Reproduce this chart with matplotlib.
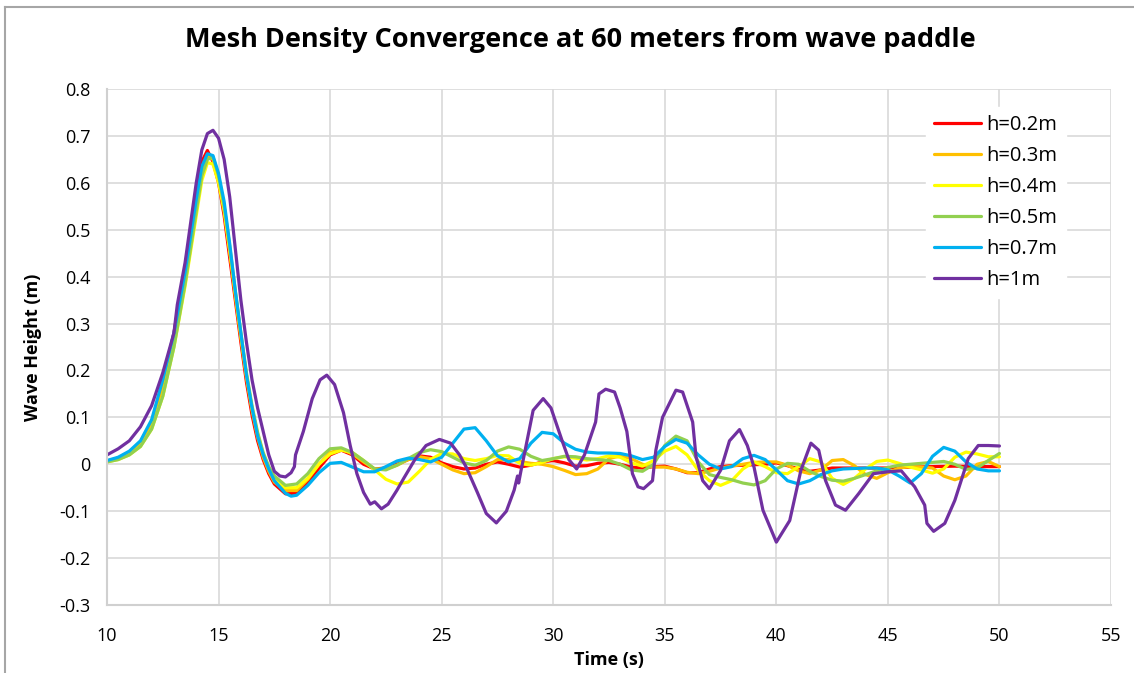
import matplotlib.pyplot as plt
from matplotlib.lines import Line2D

# Wave height records (time in s, height in m) for each mesh size
t_02 = [10, 10.5, 11, 11.5, 12, 12.5, 13, 13.5, 14, 14.25, 14.5, 14.75, 15, 15.25, 15.5, 15.75,
        16, 16.25, 16.5, 16.75, 17, 17.25, 17.5, 18, 18.5, 19, 19.5, 20, 20.5, 21, 21.5, 22,
        22.5, 23, 23.5, 24, 24.5, 25, 25.5, 26, 26.5, 27, 27.5, 28, 28.5, 29, 29.5, 30, 30.5,
        31, 31.5, 32, 32.5, 33, 33.5, 34, 34.5, 35, 35.5, 36, 36.5, 37, 37.5, 38, 38.5, 39,
        39.5, 40, 40.5, 41, 41.5, 42, 42.5, 43, 44, 45, 46, 47, 48, 49, 50]
h_02 = [0.007, 0.013, 0.025, 0.047, 0.09, 0.17, 0.28, 0.42, 0.58, 0.645, 0.669, 0.645, 0.6,
        0.53, 0.44, 0.35, 0.26, 0.175, 0.105, 0.05, 0.01, -0.02, -0.042, -0.063, -0.062,
        -0.038, -0.008, 0.02, 0.03, 0.02, 0.0, -0.01, -0.008, 0.0, 0.01, 0.018, 0.015, 0.003,
        -0.005, -0.01, -0.008, 0.0, 0.005, 0.0, -0.006, -0.002, 0.005, 0.008, 0.003, -0.004,
        -0.003, 0.002, 0.004, 0.0, -0.006, -0.008, -0.005, -0.004, -0.01, -0.018, -0.018,
        -0.01, -0.005, -0.003, -0.002, -0.001, 0.0, 0.003, -0.003, -0.01, -0.015, -0.012,
        -0.008, -0.008, -0.008, -0.008, -0.006, -0.005, -0.004, -0.005, -0.005]

t_03 = [10, 10.5, 11, 11.5, 12, 12.5, 13, 13.5, 14, 14.25, 14.5, 14.75, 15, 15.25, 15.5, 15.75,
        16, 16.25, 16.5, 16.75, 17, 17.25, 17.5, 18, 18.5, 19, 19.5, 20, 20.5, 21, 21.5, 22,
        22.5, 23, 23.5, 24, 24.5, 25, 25.5, 26, 26.5, 27, 27.5, 28, 28.5, 29, 29.5, 30, 30.5,
        31, 31.5, 32, 32.5, 33, 33.5, 34, 34.5, 35, 35.5, 36, 36.5, 37, 37.5, 38, 38.5, 39,
        39.5, 40, 40.5, 41, 41.5, 42, 42.5, 43, 43.5, 44, 44.5, 45, 45.5, 46, 46.5, 47, 47.5,
        48, 48.5, 49, 49.5, 50]
h_03 = [0.006, 0.012, 0.023, 0.043, 0.085, 0.16, 0.27, 0.405, 0.56, 0.63, 0.657, 0.65, 0.61,
        0.545, 0.455, 0.36, 0.27, 0.185, 0.115, 0.058, 0.015, -0.015, -0.038, -0.056, -0.056,
        -0.032, 0.0, 0.025, 0.032, 0.022, 0.005, -0.01, -0.01, -0.002, 0.01, 0.016, 0.012,
        0.0, -0.012, -0.02, -0.018, -0.005, 0.01, 0.01, 0.006, 0.002, 0.0, -0.005, -0.013,
        -0.022, -0.02, -0.01, 0.012, 0.018, 0.012, 0.0, -0.006, -0.006, -0.01, -0.017, -0.02,
        -0.015, -0.008, -0.004, 0.0, 0.004, 0.005, 0.005, -0.002, -0.014, -0.02, -0.012,
        0.008, 0.01, -0.003, -0.022, -0.03, -0.018, -0.008, -0.005, -0.006, -0.008, -0.025,
        -0.033, -0.025, 0.0, 0.006, -0.005]

t_04 = [10, 10.5, 11, 11.5, 12, 12.5, 13, 13.5, 14, 14.25, 14.5, 14.75, 15, 15.25, 15.5, 15.75,
        16, 16.25, 16.5, 16.75, 17, 17.25, 17.5, 18, 18.5, 19, 19.5, 20, 20.5, 21, 21.5, 22,
        22.5, 23, 23.5, 24, 24.5, 25, 25.5, 26, 26.5, 27, 27.5, 28, 28.5, 29, 29.5, 30, 30.5,
        31, 31.5, 32, 32.5, 33, 33.5, 34, 34.5, 35, 35.5, 36, 36.5, 37, 37.5, 38, 38.5, 39,
        39.5, 40, 40.5, 41, 41.5, 42, 42.5, 43, 43.5, 44, 44.5, 45, 45.5, 46, 46.5, 47, 47.5,
        48, 48.5, 49, 49.5, 50]
h_04 = [0.005, 0.01, 0.02, 0.038, 0.075, 0.145, 0.25, 0.38, 0.53, 0.605, 0.643, 0.64, 0.6,
        0.54, 0.455, 0.365, 0.275, 0.19, 0.12, 0.065, 0.022, -0.008, -0.03, -0.05, -0.05,
        -0.03, 0.0, 0.022, 0.03, 0.025, 0.008, -0.012, -0.032, -0.042, -0.038, -0.015, 0.01,
        0.023, 0.022, 0.012, 0.008, 0.012, 0.019, 0.018, 0.002, -0.002, 0.004, 0.012, 0.016,
        0.013, 0.009, 0.012, 0.018, 0.015, 0.003, -0.004, 0.008, 0.028, 0.038, 0.02, -0.013,
        -0.035, -0.045, -0.035, -0.01, 0.005, -0.005, -0.018, -0.02, -0.005, 0.012, 0.005,
        -0.03, -0.043, -0.03, -0.01, 0.006, 0.009, 0.002, -0.006, -0.012, -0.019, -0.01, 0.015,
        0.026, 0.022, 0.016, 0.016]

t_05 = [10, 10.5, 11, 11.5, 12, 12.5, 13, 13.5, 14, 14.25, 14.5, 14.75, 15, 15.25, 15.5, 15.75,
        16, 16.25, 16.5, 16.75, 17, 17.25, 17.5, 18, 18.5, 19, 19.5, 20, 20.5, 21, 21.5, 22,
        22.5, 23, 23.5, 24, 24.5, 25, 25.5, 26, 26.5, 27, 27.5, 28, 28.5, 29, 29.5, 30, 30.5,
        31, 31.5, 32, 32.5, 33, 33.5, 34, 34.5, 35, 35.5, 36, 36.5, 37, 37.5, 38, 38.5, 39,
        39.5, 40, 40.5, 41, 41.5, 42, 42.5, 43, 43.5, 44, 44.5, 45, 45.5, 46, 46.5, 47, 47.5,
        48, 48.5, 49, 49.5, 50]
h_05 = [0.005, 0.01, 0.02, 0.038, 0.075, 0.145, 0.25, 0.385, 0.54, 0.615, 0.65, 0.655, 0.615,
        0.55, 0.465, 0.37, 0.28, 0.195, 0.125, 0.068, 0.025, -0.005, -0.025, -0.045, -0.042,
        -0.02, 0.012, 0.033, 0.035, 0.025, 0.008, -0.01, -0.012, -0.002, 0.012, 0.025, 0.031,
        0.027, 0.015, 0.003, -0.002, 0.008, 0.028, 0.037, 0.032, 0.017, 0.008, 0.012, 0.017,
        0.016, 0.012, 0.01, 0.008, 0.0, -0.012, -0.015, 0.0, 0.04, 0.06, 0.05, 0.005, -0.022,
        -0.028, -0.033, -0.04, -0.044, -0.035, -0.01, 0.002, 0.0, -0.015, -0.026, -0.034,
        -0.036, -0.03, -0.022, -0.014, -0.007, -0.002, 0.0, 0.002, 0.004, 0.006, 0.0, -0.011,
        -0.008, 0.008, 0.023]

t_07 = [10, 10.5, 11, 11.5, 12, 12.5, 13, 13.5, 14, 14.25, 14.5, 14.75, 15, 15.25, 15.5, 15.75,
        16, 16.25, 16.5, 16.75, 17, 17.25, 17.5, 18, 18.25, 18.5, 19, 19.5, 20, 20.5, 21, 21.5,
        22, 22.5, 23, 23.5, 24, 24.5, 25, 25.5, 26, 26.5, 27, 27.5, 28, 28.5, 29, 29.5, 30,
        30.5, 31, 31.5, 32, 32.5, 33, 33.5, 34, 34.5, 35, 35.5, 36, 36.5, 37, 37.5, 38, 38.5,
        39, 39.5, 40, 40.5, 41, 41.5, 42, 42.5, 43, 43.5, 44, 44.5, 45, 45.5, 46, 46.5, 47,
        47.5, 48, 48.5, 49, 49.5, 50]
h_07 = [0.008, 0.015, 0.028, 0.05, 0.095, 0.18, 0.28, 0.41, 0.565, 0.635, 0.662, 0.658, 0.62,
        0.56, 0.47, 0.37, 0.28, 0.19, 0.12, 0.06, 0.02, -0.01, -0.035, -0.062, -0.068, -0.066,
        -0.045, -0.018, 0.002, 0.004, -0.006, -0.016, -0.016, -0.005, 0.007, 0.013, 0.01,
        0.005, 0.015, 0.045, 0.075, 0.078, 0.05, 0.018, 0.005, 0.012, 0.045, 0.068, 0.065,
        0.045, 0.032, 0.026, 0.024, 0.024, 0.023, 0.018, 0.01, 0.015, 0.038, 0.053, 0.045,
        0.02, 0.0, -0.01, -0.005, 0.012, 0.019, 0.01, -0.012, -0.035, -0.042, -0.035, -0.022,
        -0.014, -0.01, -0.009, -0.008, -0.008, -0.012, -0.025, -0.04, -0.02, 0.017, 0.036,
        0.028, 0.005, -0.01, -0.014, -0.014]

t_10 = [10, 10.5, 11, 11.5, 12, 12.5, 13, 13.15, 13.5, 14, 14.25, 14.5, 14.75, 15, 15.25, 15.5,
        15.75, 16, 16.25, 16.5, 16.75, 17, 17.25, 17.5, 17.75, 18, 18.25, 18.4, 18.45, 18.8,
        19.2, 19.55, 19.85, 20.2, 20.6, 20.9, 21.2, 21.5, 21.8, 22.0, 22.3, 22.6, 23.0, 23.3,
        23.8, 24.3, 24.9, 25.4, 25.8, 26.1, 26.6, 27.0, 27.45, 27.9, 28.25, 28.4, 28.45, 28.55,
        28.7, 29.1, 29.55, 29.9, 30.4, 30.7, 31.05, 31.4, 31.9, 32.05, 32.35, 32.75, 33.0, 33.3,
        33.55, 33.8, 34.05, 34.45, 34.6, 34.9, 35.5, 35.8, 36.25, 36.4, 36.7, 37.0, 37.5, 37.9,
        38.35, 38.7, 39.0, 39.4, 40.0, 40.6, 41.1, 41.55, 41.9, 42.2, 42.65, 43.1, 43.7, 44.35,
        45.0, 45.6, 46.2, 46.65, 46.75, 47.05, 47.55, 48.0, 48.6, 49.05, 49.5, 50.0]
h_10 = [0.02, 0.033, 0.05, 0.08, 0.125, 0.195, 0.28, 0.34, 0.43, 0.6, 0.67, 0.705, 0.712, 0.695,
        0.65, 0.57, 0.46, 0.35, 0.26, 0.18, 0.12, 0.07, 0.02, -0.015, -0.025, -0.027, -0.018,
        -0.005, 0.02, 0.07, 0.14, 0.18, 0.19, 0.17, 0.11, 0.04, -0.02, -0.06, -0.085, -0.08,
        -0.095, -0.085, -0.055, -0.03, 0.01, 0.04, 0.053, 0.045, 0.02, -0.006, -0.06, -0.105,
        -0.125, -0.1, -0.055, -0.025, -0.04, -0.015, 0.02, 0.115, 0.14, 0.12, 0.05, 0.01,
        -0.01, 0.02, 0.09, 0.15, 0.16, 0.154, 0.12, 0.07, -0.02, -0.048, -0.052, -0.035, 0.03,
        0.1, 0.158, 0.154, 0.09, 0.016, -0.035, -0.052, -0.013, 0.05, 0.074, 0.04, -0.006,
        -0.098, -0.166, -0.12, -0.013, 0.045, 0.03, -0.034, -0.087, -0.098, -0.062, -0.02,
        -0.016, -0.014, -0.048, -0.087, -0.126, -0.143, -0.126, -0.077, 0.012, 0.04, 0.04,
        0.039]

series = [
    ("h=0.2m", t_02, h_02, "#ff0000"),
    ("h=0.3m", t_03, h_03, "#ffc000"),
    ("h=0.4m", t_04, h_04, "#ffff00"),
    ("h=0.5m", t_05, h_05, "#92d050"),
    ("h=0.7m", t_07, h_07, "#00b0f0"),
    ("h=1m", t_10, h_10, "#7030a0"),
]

plt.rcParams['font.family'] = ['Open Sans', 'DejaVu Sans']

fig = plt.figure(figsize=(11.34, 6.73), dpi=100)
ax = fig.add_axes([107 / 1134, 1 - 605 / 673, (1111 - 107) / 1134, (605 - 89) / 673])

for name, t, h, col in series:
    ax.plot(t, h, color=col, lw=2.3, label=name, solid_capstyle='round', solid_joinstyle='round')

ax.set_xlim(10, 55)
ax.set_ylim(-0.3, 0.8)
ax.set_xticks(range(10, 56, 5))
ax.set_yticks([-0.3, -0.2, -0.1, 0, 0.1, 0.2, 0.3, 0.4, 0.5, 0.6, 0.7, 0.8])
ax.set_yticklabels(['-0.3', '-0.2', '-0.1', '0', '0.1', '0.2', '0.3', '0.4', '0.5', '0.6',
                    '0.7', '0.8'])
ax.grid(True, color='#d9d9d9', lw=1.2)
ax.set_axisbelow(True)
ax.tick_params(length=0, labelsize=13, colors='#000000')
ax.tick_params(axis='x', pad=16)
ax.tick_params(axis='y', pad=12)
for side in ['top', 'right']:
    ax.spines[side].set_visible(False)
for side in ['left', 'bottom']:
    ax.spines[side].set_color('#d0d0d0')
    ax.spines[side].set_linewidth(1.5)

ax.set_xlabel('Time (s)', fontsize=13, fontweight='bold', labelpad=4)
ax.set_ylabel('Wave Height (m)', fontsize=13, fontweight='bold', labelpad=12)
fig.text(580 / 1134, 1 - 40 / 673, 'Mesh Density Convergence at 60 meters from wave paddle',
         ha='center', va='center', fontsize=19.5, fontweight='bold')

leg = ax.legend(loc='upper left', bbox_to_anchor=(0.806, 0.985), frameon=True, fontsize=14.5,
                handlelength=2.3, handletextpad=0.3, labelspacing=0.55, borderpad=0.4,
                framealpha=1)
leg.get_frame().set_edgecolor('white')
for line in leg.get_lines():
    line.set_linewidth(2.3)

# outer chart border
fig.add_artist(Line2D([5 / 1134, 1], [1 - 7 / 673, 1 - 7 / 673], color='#a6a6a6', lw=1.5))
fig.add_artist(Line2D([5 / 1134, 5 / 1134], [0, 1 - 7 / 673], color='#a6a6a6', lw=1.5))

fig.savefig('out.png', dpi=100)
